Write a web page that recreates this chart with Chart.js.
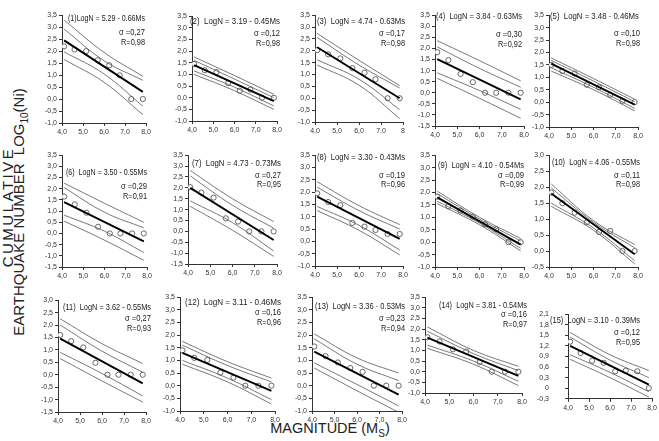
<!DOCTYPE html>
<html>
<head>
<meta charset="utf-8">
<script src="https://cdn.jsdelivr.net/npm/chart.js@4.4.0/dist/chart.umd.min.js"></script>
<style>
  body { margin: 0; background: #fff; width: 659px; height: 441px; position: relative; overflow: hidden;
         font-family: Arial, "Liberation Sans", sans-serif; color: #222; }
  canvas { position: absolute; }
  .vlab { position: absolute; width: 320px; text-align: center; transform: rotate(-90deg); white-space: nowrap;
          font-size: 15px; line-height: 16px; }
  .xlab { position: absolute; left: 230px; top: 420px; width: 200px; text-align: center; font-size: 14.5px; }
  sub { font-size: 10px; }
</style>
</head>
<body>
<div class="vlab" style="left:-152px; top:199px; letter-spacing:2.5px;">CUMULATIVE</div>
<div class="vlab" style="left:-138px; top:201px;">EARTHQUAKE NUMBER&nbsp; LOG<sub>10</sub>(Ni)</div>
<div class="xlab">MAGNITUDE (M<sub>S</sub>)</div>
<script>
// magnitude bins (x of the circles)
const magnitudes = [4.1, 4.6, 5.15, 5.7, 6.25, 6.75, 7.3, 7.85];
const fitX = [4.1, 7.85];
const bandX = [4.1, 6.0, 7.85];

const equations = [
  '(1)LogN = 5.29 - 0.66Ms', '(2)  LogN = 3.19 - 0.45Ms', '(3)  LogN = 4.74 - 0.63Ms',
  '(4)  LogN = 3.84 - 0.63Ms', '(5)  LogN = 3.48 - 0.46Ms', '(6)  LogN = 3.50 - 0.55Ms',
  '(7)  LogN = 4.73 - 0.73Ms', '(8)  LogN = 3.30 - 0.43Ms', '(9)  LogN = 4.10 - 0.54Ms',
  '(10)  LogN = 4.06 - 0.55Ms', '(11)  LogN = 3.62 - 0.55Ms', '(12)  LogN = 3.11 - 0.46Ms',
  '(13)  LogN = 3.36 - 0.53Ms', '(14)  LogN = 3.81 - 0.54Ms', '(15)  LogN = 3.10 - 0.39Ms'
];
const sigmas = ['0,27', '0,12', '0,17', '0,30', '0,10', '0,29', '0,27', '0,19', '0,09', '0,11',
                '0,27', '0,16', '0,23', '0,16', '0,12'];
const rValues = ['0,98', '0,98', '0,98', '0,92', '0,98', '0,91', '0,95', '0,96', '0,99', '0,98',
                 '0,93', '0,96', '0,94', '0,97', '0,95'];

// observed log10(N) per panel
const logN = [
  [2.2, 2.07, 2.0, 1.62, 1.41, 0.99, 0.0, 0.0],
  [1.45, 1.18, 1.1, 0.63, 0.3, 0.35, 0.0, 0.0],
  [2.03, 1.85, 1.68, 1.27, 1.08, 0.8, 0.0, 0.0],
  [1.83, 1.47, 0.85, 0.48, 0.0, 0.0, 0.0, 0.0],
  [1.5, 1.25, 1.15, 0.7, 0.6, 0.3, 0.05, 0.0],
  [1.65, 1.3, 0.93, 0.3, 0.0, 0.0, 0.0, 0.0],
  [2.03, 1.78, 1.55, 0.6, 0.45, 0.0, 0.0, 0.0],
  [1.95, 1.6, 1.47, 0.75, 0.6, 0.46, 0.3, 0.3],
  [1.83, 1.45, 1.27, 1.03, 0.72, 0.52, 0.0, 0.0],
  [1.83, 1.5, 1.2, 0.9, 0.6, 0.63, 0.0, 0.0],
  [1.6, 1.35, 1.1, 0.48, 0.0, 0.0, 0.0, 0.0],
  [1.4, 1.1, 1.02, 0.52, 0.32, 0.0, 0.0, 0.0],
  [1.55, 1.17, 0.92, 0.7, 0.55, 0.0, 0.0, 0.0],
  [1.62, 1.42, 1.05, 0.95, 0.45, 0.0, 0.0, 0.0],
  [1.32, 1.0, 0.78, 0.72, 0.48, 0.5, 0.48, 0.0]
];
// regression line, value at first and last magnitude
const fits = [
  [2.45, 0.3], [1.4, -0.15], [2.15, 0.0], [1.52, -0.3], [1.55, -0.1],
  [1.4, -0.35], [2.0, -0.4], [1.82, 0.1], [1.8, -0.1], [1.8, -0.1],
  [1.45, -0.35], [1.3, -0.2], [1.35, -0.35], [1.6, -0.2], [1.2, 0.1]
];
// confidence / prediction curves at start, middle, end
const upperOuter = [
  [3.3, 1.95, 0.95], [1.75, 0.95, 0.15], [2.73, 1.6, 0.53], [2.35, 1.45, 0.54], [1.78, 0.95, 0.12],
  [2.25, 1.35, 0.5], [2.8, 1.5, 0.45], [2.42, 1.45, 0.68], [2.05, 1.0, 0.15], [2.1, 0.95, 0.2],
  [2.25, 1.25, 0.45], [1.75, 0.95, 0.3], [2.05, 1.1, 0.5], [2.1, 1.0, 0.25], [1.58, 0.95, 0.5]
];
const upperInner = [
  [2.92, 1.6, 0.78], [1.6, 0.8, 0.0], [2.56, 1.4, 0.43], [2.07, 1.1, 0.25], [1.68, 0.85, 0.02],
  [2.05, 0.95, 0.25], [2.55, 1.2, 0.15], [2.2, 1.25, 0.5], [1.95, 0.93, 0.05], [1.98, 0.9, 0.1],
  [2.0, 0.95, 0.1], [1.6, 0.8, 0.15], [1.85, 0.85, 0.2], [1.9, 0.85, 0.05], [1.45, 0.8, 0.3]
];
const lowerInner = [
  [1.97, 1.05, -0.3], [1.15, 0.45, -0.35], [1.62, 0.8, -0.48], [0.9, 0.1, -0.75], [1.38, 0.6, -0.25],
  [0.82, 0.1, -0.85], [1.4, 0.4, -0.9], [1.42, 0.65, -0.35], [1.65, 0.77, -0.25], [1.5, 0.72, -0.3],
  [0.9, 0.05, -0.85], [1.0, 0.3, -0.55], [0.9, 0.05, -0.8], [1.25, 0.5, -0.45], [0.95, 0.45, -0.1]
];
const lowerOuter = [
  [1.65, 0.7, -0.65], [1.0, 0.3, -0.5], [1.4, 0.55, -0.86], [0.65, -0.25, -1.15], [1.25, 0.5, -0.35],
  [0.55, -0.3, -1.2], [1.15, 0.05, -1.15], [1.25, 0.45, -0.55], [1.55, 0.7, -0.35], [1.4, 0.65, -0.4],
  [0.65, -0.25, -1.1], [0.85, 0.15, -0.72], [0.7, -0.2, -1.05], [1.1, 0.35, -0.65], [0.82, 0.3, -0.25]
];
// y axis range and step
const yRanges = [
  [-1, 3.5, 0.5], [-1, 3.5, 0.5], [-1, 3.5, 0.5], [-1.5, 3.5, 0.5], [-1, 3.5, 0.5],
  [-1.5, 3.5, 0.5], [-1.5, 3.5, 0.5], [-1, 3.5, 0.5], [-1, 3.5, 0.5], [-0.5, 3.0, 0.5],
  [-1.5, 3.0, 0.5], [-1, 3.5, 0.5], [-1, 3.5, 0.5], [-1, 3.5, 0.5], [-0.3, 2.1, 0.3]
];

// layout: plot box [left, right, top, bottom] and text offsets [eqDx, eqDy, eqWidth, sDy, rDy, rightDx]
const boxes = [
  [62, 146, 15, 123], [192, 277, 16, 121], [315, 403, 15, 122], [435, 524, 15, 126], [549, 638, 15, 127],
  [62, 147, 155, 267], [188, 277, 155, 264], [315, 403, 155, 266], [435, 524, 155, 267], [549, 638, 155, 267],
  [58, 146, 300, 412], [180, 275, 297, 411], [312, 402, 297, 411], [425, 522, 297, 393], [568, 652, 300, 402]
];
const notePos = [
  [6, 3, 77, 17, 27, -1], [-2, 5, 90, 17, 27, 3], [2, 6, 88, 18, 28, 2], [1, 1, 86, 19, 29, -2], [1, 1, 89, 18, 28, 2],
  [4, 17, 81, 31, 41, 0], [4, 8, 89, 20, 29, 4], [2, 2, 88, 20, 29, 2], [3, 10, 86, 20, 29, 0], [3, 7, 88, 20, 29, 2],
  [5, 7, 88, 18, 28, 5], [5, 5, 96, 15, 25, 6], [3, 9, 90, 21, 31, 3], [14, 8, 88, 17, 27, 5], [-18, 6, 90, 18, 28, -12]
];
const yLabelPad = [2, 2, 2, 2, 2, 2, 2, 2, 2, 2, 2, 2, 2, 2, 16];

const YW = 40, XH = 17, PT = 6, PR = 10;

function tickText(v, step) {
  if (Math.abs(v) < 1e-9) return step === 0.3 ? '0' : '0,0';
  return v.toFixed(1).replace('.', ',');
}

function makePanel(i) {
  const [left, right, top, bottom] = boxes[i];
  const w = right - left + YW + PR;
  const h = bottom - top + PT + XH;
  const cv = document.createElement('canvas');
  cv.width = w; cv.height = h;
  cv.style.left = (left - YW) + 'px';
  cv.style.top = (top - PT) + 'px';
  cv.style.width = w + 'px';
  cv.style.height = h + 'px';
  document.body.appendChild(cv);

  const pts = magnitudes.map((m, k) => ({ x: m, y: logN[i][k] }));
  const curve = arr => bandX.map((m, k) => ({ x: m, y: arr[i][k] }));
  const thin = d => ({ data: d, showLine: true, borderColor: '#555', borderWidth: 0.8,
                       pointRadius: 0, tension: 0.4, fill: false });
  const [yMin, yMax, step] = yRanges[i];
  const np = notePos[i];

  const notes = {
    id: 'notes',
    afterDraw(chart) {
      const a = chart.chartArea, ctx = chart.ctx;
      ctx.save();
      ctx.fillStyle = '#222';
      ctx.textBaseline = 'middle';
      ctx.font = '9px Arial, "Liberation Sans", sans-serif';
      ctx.textAlign = 'left';
      ctx.fillText(equations[i], a.left + np[0], a.top + np[1], np[2]);
      ctx.textAlign = 'right';
      ctx.fillText('\u03c3 =' + sigmas[i], a.right + np[5], a.top + np[3], 26);
      ctx.fillText('R=' + rValues[i], a.right + np[5], a.top + np[4], 24);
      ctx.restore();
    }
  };

  new Chart(cv, {
    type: 'scatter',
    data: {
      datasets: [
        thin(curve(upperOuter)), thin(curve(upperInner)),
        thin(curve(lowerInner)), thin(curve(lowerOuter)),
        { data: fitX.map((m, k) => ({ x: m, y: fits[i][k] })), showLine: true,
          borderColor: '#000', borderWidth: 1.9, pointRadius: 0 },
        { data: pts, pointStyle: 'circle', pointRadius: 2.6, borderWidth: 0.8,
          borderColor: '#444', backgroundColor: '#fff' }
      ]
    },
    options: {
      responsive: false,
      animation: false,
      devicePixelRatio: 1,
      layout: { padding: { top: PT, right: PR, left: 0, bottom: 0 } },
      plugins: { legend: { display: false }, tooltip: { enabled: false } },
      scales: {
        x: {
          type: 'linear', min: 4, max: 8,
          ticks: { stepSize: 1, autoSkip: false, maxRotation: 0, padding: 2, color: '#333',
                   font: { size: 7, family: 'Arial, "Liberation Sans", sans-serif' },
                   callback: v => (i === 2 && v === 8) ? '8' : tickText(v, 1) },
          grid: { drawOnChartArea: false, tickLength: 3, color: '#333' },
          border: { color: '#333' },
          afterFit: s => { s.height = XH; }
        },
        y: {
          min: yMin, max: yMax,
          ticks: { stepSize: step, autoSkip: false, padding: yLabelPad[i], color: '#333',
                   font: { size: 7, family: 'Arial, "Liberation Sans", sans-serif' },
                   callback: v => tickText(v, step) },
          grid: { drawOnChartArea: false, tickLength: 3, color: '#333' },
          border: { color: '#333' },
          afterFit: s => { s.width = YW; }
        }
      }
    },
    plugins: [notes]
  });
}

for (let i = 0; i < 15; i++) makePanel(i);
</script>
</body>
</html>
